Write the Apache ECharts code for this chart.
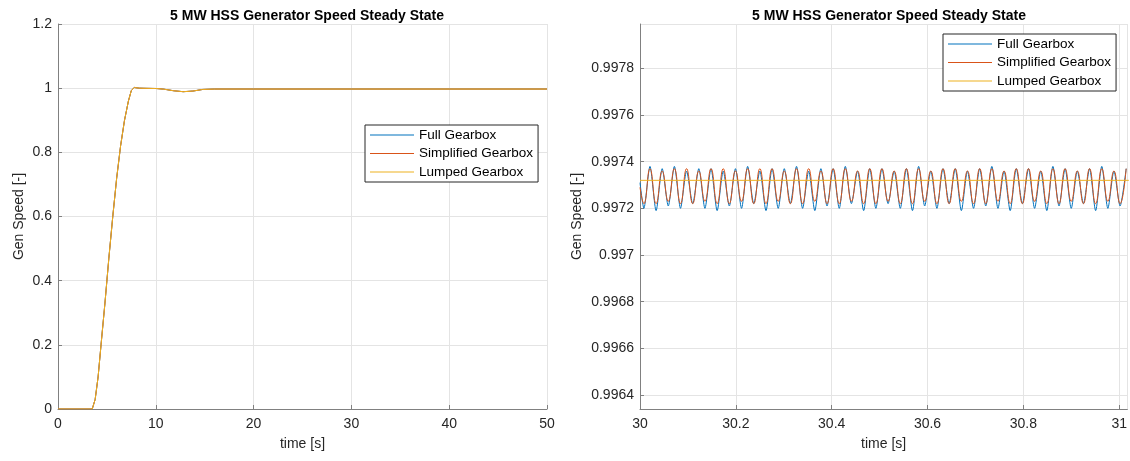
<!DOCTYPE html>
<html>
<head>
<meta charset="utf-8">
<title>5 MW HSS Generator Speed Steady State</title>
<script src="https://cdn.jsdelivr.net/npm/echarts@6/dist/echarts.min.js"></script>
<style>
  html, body { margin: 0; padding: 0; background: #fff; }
  #main { width: 1130px; height: 461px; }
</style>
</head>
<body>
<div id="main"></div>
<script>
// series names
const seriesNames = ['Full Gearbox', 'Simplified Gearbox', 'Lumped Gearbox'];
const seriesColors = ['#0072BD', '#D95319', '#EDB120'];

// left panel: start-up, 0..50 s (the three models overlap)
const startupTime = [0, 3.5, 3.8, 4.1, 4.4, 4.8, 5.2, 5.6, 6.0, 6.4, 6.8, 7.2, 7.5, 7.8, 8.3, 9, 10, 10.8, 11.8, 12.8, 13.8, 14.8, 16, 20, 30, 40, 50];
const startupSpeed = [0, 0, 0.03, 0.10, 0.20, 0.33, 0.47, 0.60, 0.72, 0.82, 0.90, 0.96, 0.993, 1.002, 1.0, 0.9995, 0.999, 0.997, 0.992, 0.989, 0.991, 0.996, 0.9973, 0.9973, 0.9973, 0.9973, 0.9973];

// right panel: zoom 30..31 s, sampled at troughs / peaks
const zoomTime = [30.0000,
  30.0081, 30.0208, 30.0336, 30.0463, 30.0590, 30.0718, 30.0845, 30.0972, 30.1100, 30.1227,
  30.1355, 30.1482, 30.1610, 30.1737, 30.1864, 30.1992, 30.2119, 30.2246, 30.2374, 30.2501,
  30.2629, 30.2756, 30.2884, 30.3011, 30.3138, 30.3266, 30.3393, 30.3520, 30.3648, 30.3775,
  30.3903, 30.4030, 30.4158, 30.4285, 30.4412, 30.4540, 30.4667, 30.4794, 30.4922, 30.5049,
  30.5177, 30.5304, 30.5432, 30.5559, 30.5686, 30.5814, 30.5941, 30.6068, 30.6196, 30.6323,
  30.6451, 30.6578, 30.6706, 30.6833, 30.6960, 30.7088, 30.7215, 30.7342, 30.7470, 30.7597,
  30.7725, 30.7852, 30.7980, 30.8107, 30.8234, 30.8362, 30.8489, 30.8616, 30.8744, 30.8871,
  30.8999, 30.9126, 30.9254, 30.9381, 30.9508, 30.9636, 30.9763, 30.9890, 31.0018, 31.0145];

const fullZoom = [0.99731,
  0.99720, 0.99738, 0.99719, 0.99737, 0.99721, 0.99738, 0.99720, 0.99736, 0.99722, 0.99737,
  0.99720, 0.99737, 0.99719, 0.99736, 0.99721, 0.99737, 0.99720, 0.99738, 0.99722, 0.99736,
  0.99719, 0.99737, 0.99720, 0.99737, 0.99722, 0.99738, 0.99720, 0.99736, 0.99719, 0.99737,
  0.99721, 0.99737, 0.99720, 0.99738, 0.99722, 0.99736, 0.99719, 0.99737, 0.99720, 0.99737,
  0.99722, 0.99736, 0.99720, 0.99737, 0.99719, 0.99738, 0.99721, 0.99736, 0.99720, 0.99737,
  0.99722, 0.99737, 0.99719, 0.99736, 0.99720, 0.99737, 0.99721, 0.99738, 0.99720, 0.99736,
  0.99719, 0.99737, 0.99722, 0.99737, 0.99720, 0.99736, 0.99719, 0.99738, 0.99721, 0.99737,
  0.99720, 0.99736, 0.99722, 0.99737, 0.99719, 0.99738, 0.99720, 0.99736, 0.99721, 0.99737];

const simplifiedZoom = [0.99729,
  0.99722, 0.99737, 0.99722, 0.99736, 0.99723, 0.99737, 0.99722, 0.99737, 0.99722, 0.99736,
  0.99723, 0.99737, 0.99722, 0.99737, 0.99722, 0.99736, 0.99723, 0.99737, 0.99722, 0.99737,
  0.99722, 0.99737, 0.99723, 0.99736, 0.99722, 0.99737, 0.99722, 0.99737, 0.99723, 0.99736,
  0.99722, 0.99737, 0.99722, 0.99737, 0.99723, 0.99736, 0.99722, 0.99737, 0.99722, 0.99737,
  0.99723, 0.99736, 0.99722, 0.99737, 0.99722, 0.99737, 0.99723, 0.99736, 0.99722, 0.99737,
  0.99722, 0.99737, 0.99723, 0.99736, 0.99722, 0.99737, 0.99722, 0.99737, 0.99723, 0.99736,
  0.99722, 0.99737, 0.99722, 0.99737, 0.99723, 0.99736, 0.99722, 0.99737, 0.99722, 0.99737,
  0.99723, 0.99736, 0.99722, 0.99737, 0.99722, 0.99737, 0.99723, 0.99736, 0.99722, 0.99737];

const lumpedZoomTime = [30, 31.02];
const lumpedZoom = [0.99732, 0.99732];

const FONT = 'Liberation Sans, Arial, sans-serif';
const titleText = '5 MW HSS Generator Speed Steady State';

function pairs(xs, ys) {
  return xs.map((x, i) => [x, ys[i]]);
}

function makeXAxis(gridIndex, min, max, interval, hideMax) {
  return {
    type: 'value', gridIndex: gridIndex, min: min, max: max, interval: interval,
    name: 'time [s]', nameLocation: 'middle', nameGap: 28,
    nameTextStyle: { fontFamily: FONT, fontSize: 14, color: '#262626' },
    axisLine: { show: true, lineStyle: { color: '#808080', width: 1 } },
    axisTick: { show: true, inside: true, length: 4, lineStyle: { color: '#808080' } },
    axisLabel: { fontFamily: FONT, fontSize: 14, color: '#262626', margin: 8, showMaxLabel: !hideMax },
    splitLine: { show: true, lineStyle: { color: '#e4e4e4', width: 1 } }
  };
}

function makeYAxis(gridIndex, extra) {
  return Object.assign({
    type: 'value', gridIndex: gridIndex,
    name: 'Gen Speed [-]', nameLocation: 'middle', nameRotate: 90,
    nameTextStyle: { fontFamily: FONT, fontSize: 14, color: '#262626' },
    axisLine: { show: true, lineStyle: { color: '#808080', width: 1 } },
    axisTick: { show: true, inside: true, length: 4, lineStyle: { color: '#808080' } },
    axisLabel: { fontFamily: FONT, fontSize: 14, color: '#262626', margin: 6 },
    splitLine: { show: true, lineStyle: { color: '#e4e4e4', width: 1 } }
  }, extra);
}

function makeLegend(left, top) {
  return {
    data: seriesNames, orient: 'vertical', left: left, top: top,
    icon: 'rect', itemWidth: 44, itemHeight: 1, itemGap: 2.5,
    padding: [2, 5, 2, 5],
    borderColor: '#262626', borderWidth: 1, backgroundColor: '#fff',
    selectedMode: false,
    textStyle: { fontFamily: FONT, fontSize: 13.5, color: '#000', lineHeight: 16 }
  };
}

function lineSeries(i, xIdx, data, smooth) {
  return {
    name: seriesNames[i], type: 'line', xAxisIndex: xIdx, yAxisIndex: xIdx,
    data: data, symbol: 'none', showSymbol: false, smooth: smooth,
    color: seriesColors[i],
    lineStyle: { color: seriesColors[i], width: 1 },
    animation: false
  };
}

const chart = echarts.init(document.getElementById('main'), null, { renderer: 'canvas' });

const option = {
  animation: false,
  title: [
    { text: titleText, left: 302, top: 4, textAlign: 'center',
      textStyle: { fontFamily: FONT, fontSize: 14, fontWeight: 'bold', color: '#000' } },
    { text: titleText, left: 884, top: 4, textAlign: 'center',
      textStyle: { fontFamily: FONT, fontSize: 14, fontWeight: 'bold', color: '#000' } }
  ],
  legend: [makeLegend(365, 125), makeLegend(943, 34)],
  grid: [
    { left: 58, top: 24, width: 489, height: 385 },
    { left: 640, top: 24, width: 488, height: 385 }
  ],
  xAxis: [
    makeXAxis(0, 0, 50, 10, false),
    makeXAxis(1, 30, 31.017, 0.2, true)
  ],
  yAxis: [
    makeYAxis(0, { min: 0, max: 1.2, interval: 0.2, nameGap: 32 }),
    makeYAxis(1, { min: 0.99634, max: 0.99799, splitNumber: 8, nameGap: 56,
      axisLabel: { fontFamily: FONT, fontSize: 14, color: '#262626', margin: 6, showMinLabel: false, showMaxLabel: false } })
  ],
  series: [
    lineSeries(0, 0, pairs(startupTime, startupSpeed), false),
    lineSeries(1, 0, pairs(startupTime, startupSpeed), false),
    lineSeries(2, 0, pairs(startupTime, startupSpeed), false),
    lineSeries(0, 1, pairs(zoomTime, fullZoom), 0.25),
    lineSeries(1, 1, pairs(zoomTime, simplifiedZoom), 0.5),
    lineSeries(2, 1, pairs(lumpedZoomTime, lumpedZoom), false)
  ]
};

chart.setOption(option);
</script>
</body>
</html>
